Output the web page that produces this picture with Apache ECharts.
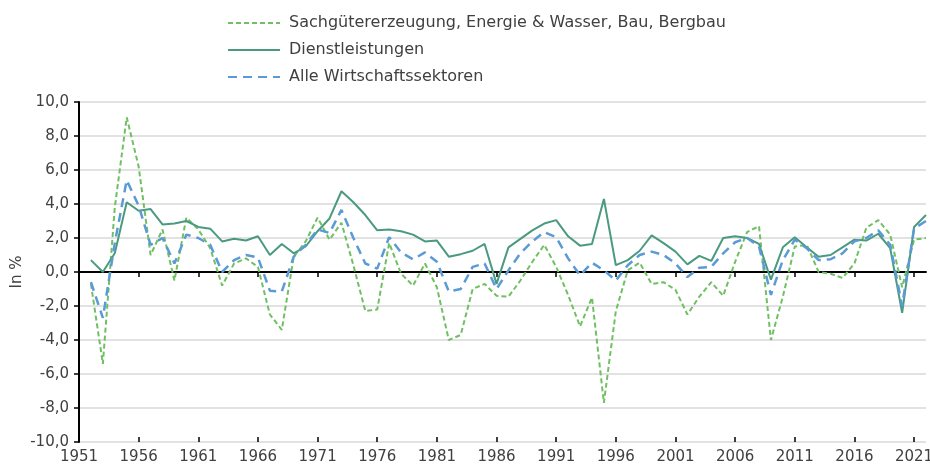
<!DOCTYPE html>
<html>
<head>
<meta charset="utf-8">
<script src="https://cdn.jsdelivr.net/npm/echarts@6/dist/echarts.min.js"></script>
<style>
  html, body { margin: 0; padding: 0; background: #fff; }
  #main { width: 930px; height: 470px; }
</style>
</head>
<body>
<div id="main"></div>
<script>
var years = [];
for (var y = 1951; y <= 2022; y++) years.push(String(y));

// growth rates in %, 1951 has no value
var sachgueter = [null,
  -0.7, -5.4, 3.8, 9.1, 6.2, 1.0, 2.5, -0.5, 3.2, 2.5,
  1.4, -0.8, 0.5, 0.8, 0.3, -2.5, -3.4, 0.9, 1.8, 3.2,
  1.9, 2.9, 0.4, -2.3, -2.2, 1.7, -0.1, -0.8, 0.5, -0.9,
  -4.0, -3.7, -1.0, -0.7, -1.4, -1.45, -0.5, 0.6, 1.6, 0.3,
  -1.35, -3.2, -1.5, -7.7, -2.3, 0.1, 0.55, -0.7, -0.6, -1.05,
  -2.5, -1.45, -0.6, -1.4, 0.6, 2.35, 2.7, -4.0, -1.45, 1.5,
  1.6, 0.0, -0.1, -0.35, 0.5, 2.6, 3.05, 2.2, -0.9, 1.9,
  2.0
];
var dienst = [null,
  0.7, 0.0, 1.1, 4.1, 3.6, 3.7, 2.8, 2.85, 3.0, 2.65,
  2.55, 1.8, 1.95, 1.85, 2.1, 1.0, 1.65, 1.1, 1.5, 2.4,
  3.15, 4.75, 4.1, 3.35, 2.45, 2.5, 2.4, 2.2, 1.8, 1.85,
  0.9, 1.05, 1.25, 1.65, -0.7, 1.45, 1.95, 2.45, 2.85, 3.05,
  2.1, 1.55, 1.65, 4.3, 0.4, 0.7, 1.25, 2.15, 1.7, 1.2,
  0.45, 0.95, 0.65, 2.0, 2.1, 2.0, 1.65, -0.45, 1.45, 2.05,
  1.45, 0.9, 1.0, 1.45, 1.9, 1.85, 2.25, 1.4, -2.4, 2.65,
  3.35
];
var alle = [null,
  -0.6, -2.7, 1.7, 5.4, 3.9, 1.6, 2.0, 0.5, 2.2, 2.0,
  1.6, 0.0, 0.7, 1.0, 0.85, -1.1, -1.15, 0.9, 1.6, 2.5,
  2.3, 3.65, 2.0, 0.5, 0.2, 2.05, 1.15, 0.75, 1.15, 0.6,
  -1.15, -1.0, 0.3, 0.5, -1.0, 0.1, 1.1, 1.8, 2.35, 2.05,
  0.8, -0.2, 0.55, 0.1, -0.5, 0.4, 1.0, 1.2, 1.0, 0.5,
  -0.3, 0.25, 0.3, 1.1, 1.75, 2.0, 1.5, -1.35, 0.7, 1.9,
  1.4, 0.7, 0.75, 1.1, 1.8, 2.0, 2.45, 1.6, -2.0, 2.55,
  3.0
];

var font = 'DejaVu Sans';
var textColor = '#404040';

var myChart = echarts.init(document.getElementById('main'));

var option = {
    animation: false,
    textStyle: {fontFamily: font},
    legend: {
        orient: 'vertical',
        left: 222,
        top: 10,
        itemWidth: 52,
        itemHeight: 14,
        itemGap: 11,
        itemStyle: {opacity: 0},
        textStyle: {fontFamily: font, fontSize: 16, color: textColor, padding: [0, 0, 0, 4]},
        data: ['Sachgütererzeugung, Energie & Wasser, Bau, Bergbau', 'Dienstleistungen', 'Alle Wirtschaftssektoren']
    },
    grid: {left: 79, right: 4, top: 102, bottom: 28, outerBoundsMode: 'none'},
    xAxis: [
        {
            type: 'category',
            data: years,
            boundaryGap: false,
            axisLine: {onZero: true, lineStyle: {color: '#000', width: 2}},
            axisTick: {interval: 4, length: 5, lineStyle: {color: '#000', width: 1.5}},
            axisLabel: {show: false},
            splitLine: {show: false}
        },
        {
            type: 'category',
            data: years,
            boundaryGap: false,
            position: 'bottom',
            axisLine: {show: false, onZero: false},
            axisTick: {show: false},
            axisLabel: {interval: 4, fontFamily: font, fontSize: 15, color: textColor, margin: 8},
            splitLine: {show: false}
        },
        {
            type: 'category',
            data: years,
            boundaryGap: false,
            position: 'bottom',
            axisLine: {show: true, onZero: true, lineStyle: {opacity: 0}},
            axisTick: {interval: 4, inside: true, length: 5, lineStyle: {color: '#000', width: 1.5, opacity: 1}},
            axisLabel: {show: false},
            splitLine: {show: false}
        }
    ],
    yAxis: {
        type: 'value',
        min: -10,
        max: 10,
        interval: 2,
        name: 'In %',
        nameLocation: 'middle',
        nameGap: 54,
        nameMoveOverlap: false,
        nameTextStyle: {fontFamily: font, fontSize: 15, color: textColor},
        axisLine: {show: true, lineStyle: {color: '#000', width: 2}},
        axisTick: {show: true, length: 5, lineStyle: {color: '#000', width: 1.5}},
        axisLabel: {
            fontFamily: font, fontSize: 15, color: textColor, margin: 10,
            formatter: function (v) { return v.toFixed(1).replace('.', ','); }
        },
        splitLine: {lineStyle: {color: '#d9d9d9', width: 1.5}}
    },
    series: [
        {
            name: 'Sachgütererzeugung, Energie & Wasser, Bau, Bergbau',
            type: 'line',
            data: sachgueter,
            symbol: 'none',
            color: '#70bf62',
            lineStyle: {width: 2, type: [5, 3]},
            z: 3
        },
        {
            name: 'Dienstleistungen',
            type: 'line',
            data: dienst,
            symbol: 'none',
            color: '#4a9a80',
            lineStyle: {width: 2},
            z: 4
        },
        {
            name: 'Alle Wirtschaftssektoren',
            type: 'line',
            data: alle,
            symbol: 'none',
            color: '#5b9bd5',
            lineStyle: {width: 2.5, type: [9, 6]},
            z: 5
        }
    ]
};
myChart.setOption(option);
</script>
</body>
</html>
